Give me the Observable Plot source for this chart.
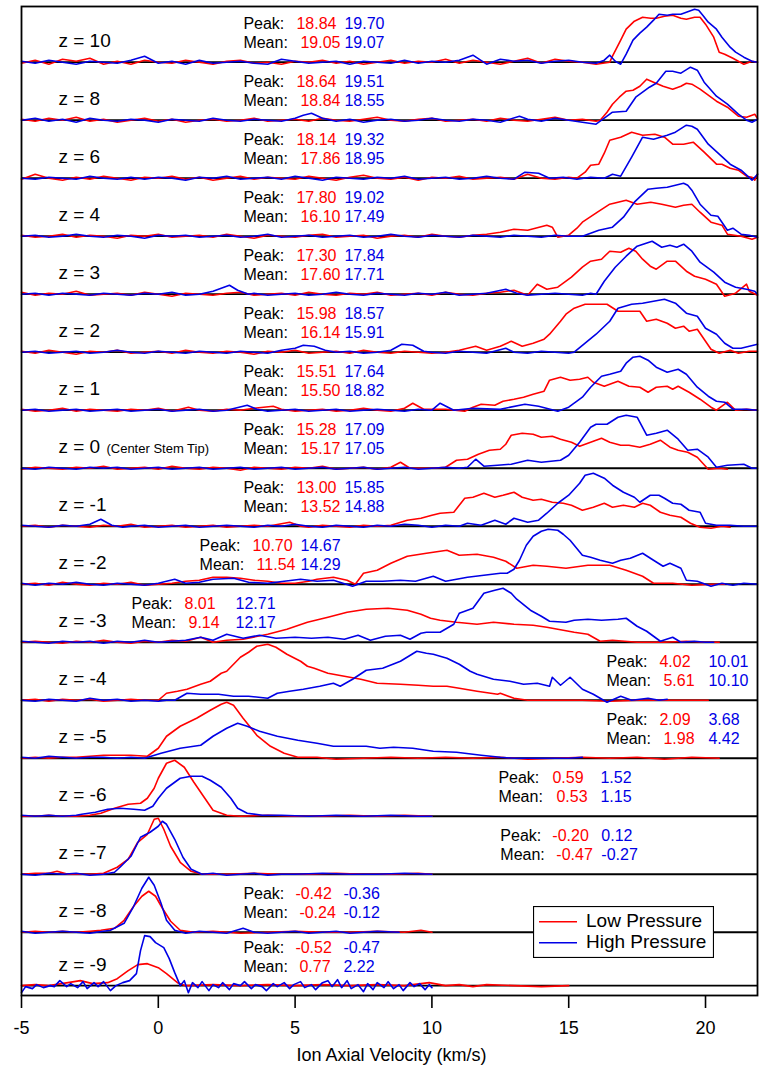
<!DOCTYPE html>
<html><head><meta charset="utf-8">
<script src="https://cdn.jsdelivr.net/npm/d3@7"></script>
<script src="https://cdn.jsdelivr.net/npm/@observablehq/plot@0.6"></script>
<style>
body{margin:0;background:#fff;}
#wrap{position:relative;width:761px;height:1068px;}
#legend{position:absolute;left:533px;top:906px;}
</style></head><body><div id="wrap"></div>
<script>
// ---- panel labels (z positions, top to bottom) ----
const zLabels = [10, 8, 6, 4, 3, 2, 1, 0, -1, -2, -3, -4, -5, -6, -7, -8, -9];

// ---- annotated values ----
const peakLow  = [18.84, 18.64, 18.14, 17.80, 17.30, 15.98, 15.51, 15.28, 13.00, 10.70, 8.01, 4.02, 2.09, 0.59, -0.20, -0.42, -0.52];
const peakHigh = [19.70, 19.51, 19.32, 19.02, 17.84, 18.57, 17.64, 17.09, 15.85, 14.67, 12.71, 10.01, 3.68, 1.52, 0.12, -0.36, -0.47];
const meanLow  = [19.05, 18.84, 17.86, 16.10, 17.60, 16.14, 15.50, 15.17, 13.52, 11.54, 9.14, 5.61, 1.98, 0.53, -0.47, -0.24, 0.77];
const meanHigh = [19.07, 18.55, 18.95, 17.49, 17.71, 15.91, 18.82, 17.05, 14.88, 14.29, 12.17, 10.10, 4.42, 1.15, -0.27, -0.12, 2.22];

const xTicks = [-5, 0, 5, 10, 15, 20];
const seriesNames = ["Low Pressure", "High Pressure"];

// ---- signal traces: [velocity km/s, signal (a.u.)] ----
const low_z10 = [[-5,-1],[-4.5,2],[-4,-2],[-3.5,3],[-3,1],[-2.5,4],[-2,-2],[-1.5,1],[-1,-2],[-0.5,2],[0,0],[0.5,-1],[1,2],[1.5,0],[2,-2],[2.5,1],[3,2],[3.5,-1],[4,0],[4.5,-2],[5,1],[5.5,0],[6,2],[6.5,-1],[7,1],[7.5,-2],[8,0],[8.5,2],[9,-1],[9.5,1],[10,0],[10.5,3],[11,-1],[11.5,2],[12,0],[12.5,-2],[13,1],[13.5,4],[14,-1],[14.5,3],[15,1],[15.5,0],[16,-2],[16.5,0],[16.6,6],[16.9,22],[17.1,33],[17.4,41],[17.7,45],[18.0,44],[18.2,44],[18.5,46],[18.8,47],[19.1,44],[19.3,43],[19.6,45],[19.8,45],[20.0,38],[20.3,25],[20.5,10],[20.7,8],[21.0,4],[21.4,-2],[21.7,1],[21.9,0]];
const high_z10 = [[-5,1],[-4.5,-1],[-4,2],[-3.5,0],[-3,-2],[-2.5,1],[-2,0],[-1.5,-1],[-1,2],[-0.5,6],[0,-1],[0.5,1],[1,-2],[1.5,2],[2,-1],[2.5,0],[3,1],[3.5,-1],[4,-2],[4.5,3],[5,1],[5.5,-1],[6,0],[6.5,1],[7,-2],[7.5,1],[8,0],[8.5,-1],[9,2],[9.5,-1],[10,1],[10.5,0],[11,2],[11.5,7],[12,-2],[12.5,3],[13,1],[13.5,2],[14,-1],[14.5,1],[15,2],[15.5,0],[16,-1],[16.3,2],[16.5,7],[16.7,1],[16.9,-2],[17.1,8],[17.35,22],[17.6,29],[17.85,35],[18.1,42],[18.3,48],[18.6,47],[18.8,48],[19.1,48],[19.3,50],[19.6,53],[19.75,52],[19.9,47],[20.1,40],[20.4,33],[20.6,25],[20.9,15],[21.1,10],[21.4,5],[21.7,1],[21.9,0]];

const low_z8 = [[-5,1],[-4.5,-1],[-4,2],[-3.5,0],[-3,3],[-2.5,-1],[-2,1],[-1.5,-2],[-1,0],[-0.5,2],[0,-1],[0.5,1],[1,-2],[1.5,0],[2,1],[2.5,-1],[3,0],[3.5,2],[4,-1],[4.5,0],[5,1],[5.5,-1],[6,2],[6.5,0],[7,-1],[7.5,1],[8,3],[8.5,0],[9,-1],[9.5,1],[10,2],[10.5,-1],[11,0],[11.5,1],[12,-1],[12.5,2],[13,0],[13.5,-1],[14,1],[14.5,3],[15,0],[15.5,1],[16,-1],[16.15,0],[16.4,8],[16.6,16],[16.85,23],[17.1,29],[17.35,30],[17.6,34],[17.85,41],[18.1,38],[18.45,34],[18.8,31],[19.1,34],[19.3,37],[19.5,36],[19.8,31],[20.1,25],[20.4,19],[20.8,13],[21.2,4],[21.5,3],[21.8,6],[21.9,2]];
const high_z8 = [[-5,0],[-4.5,2],[-4,-1],[-3.5,1],[-3,-2],[-2.5,2],[-2,0],[-1.5,-1],[-1,1],[-0.5,0],[0,-2],[0.5,1],[1,0],[1.5,-1],[2,2],[2.5,0],[3,-1],[3.5,1],[4,0],[4.5,-1],[5,2],[5.3,5],[5.6,7],[6,2],[6.5,-1],[7,1],[7.5,-2],[8,0],[8.5,1],[9,-1],[9.5,0],[10,2],[10.5,0],[11,-1],[11.5,1],[12,0],[12.5,-2],[13.2,4],[13.5,1],[14,-1],[14.5,2],[15,0],[15.5,-2],[16.0,-4],[16.3,2],[16.6,8],[17.1,9],[17.45,23],[17.95,33],[18.2,37],[18.55,49],[18.8,49],[19.1,47],[19.45,53],[19.7,50],[19.95,38],[20.4,24],[20.8,16],[21.2,6],[21.5,0],[21.7,-2],[21.9,1]];

const low_z6 = [[-5,-1],[-4.5,4],[-4,0],[-3.5,-2],[-3,1],[-2.5,-1],[-2,2],[-1.5,0],[-1,-2],[-0.5,1],[0,0],[0.5,2],[1,-1],[1.5,1],[2,-2],[2.5,0],[3,2],[3.5,-1],[4,1],[4.5,0],[5,-1],[5.5,2],[6,0],[6.5,-2],[7,1],[7.5,3],[8,0],[8.5,-1],[9,1],[9.5,-2],[10,1],[10.5,0],[11,2],[11.5,-1],[12,0],[12.5,1],[13,-1],[13.5,4],[14,0],[14.5,-1],[15,1],[15.3,0],[15.6,6],[15.8,13],[16.1,14],[16.3,25],[16.5,38],[16.9,41],[17.3,46],[17.7,43],[18.15,44],[18.5,41],[18.8,34],[19.2,34],[19.55,36],[19.95,26],[20.4,14],[20.6,14],[20.9,10],[21.2,8],[21.5,2],[21.7,1],[21.8,-2],[21.9,4]];
const high_z6 = [[-5,0],[-4.5,-1],[-4,1],[-3.5,0],[-3,-1],[-2.5,2],[-2,0],[-1.5,-1],[-1,1],[-0.5,-1],[0,1],[0.5,0],[1,-2],[1.5,1],[2,0],[2.5,2],[3,-1],[3.5,0],[4,1],[4.5,-1],[5,2],[5.5,0],[6,-2],[6.5,1],[7,0],[7.5,-1],[8,1],[8.5,0],[9,2],[9.5,-1],[10,0],[10.5,1],[11,-1],[11.5,0],[12,2],[12.5,0],[13,-1],[13.4,6],[13.9,5],[14.3,0],[14.8,1],[15.3,-1],[15.8,1],[16.3,0],[16.6,4],[16.9,2],[17.3,21],[17.7,41],[18.1,39],[18.6,43],[18.9,46],[19.3,53],[19.5,52],[19.7,49],[20.1,34],[20.5,24],[20.9,14],[21.3,8],[21.7,-2],[21.9,4]];

const low_z4 = [[-5,1],[-4.5,-1],[-4,0],[-3.5,2],[-3,-1],[-2.5,1],[-2,0],[-1.5,-2],[-1,1],[-0.5,0],[0,2],[0.5,-1],[1,0],[1.5,1],[2,-1],[2.5,2],[3,0],[3.5,-2],[4,1],[4.5,0],[5,-1],[5.5,1],[6,2],[6.5,-1],[7,0],[7.5,1],[8,-2],[8.5,0],[9,1],[9.5,-1],[10,2],[10.5,0],[11,-1],[11.5,1],[12,2],[12.5,4],[13,7],[13.5,6],[14.2,11],[14.4,9],[14.6,-1],[15.0,1],[15.3,8],[15.5,14],[16.05,24],[16.5,32],[16.8,34],[17.1,36],[17.5,32],[18.0,34],[18.4,32],[18.9,29],[19.2,31],[19.5,32],[19.8,24],[20.2,14],[20.6,11],[20.8,2],[21.3,0],[21.7,-3],[21.9,-1]];
const high_z4 = [[-5,0],[-4.5,1],[-4,-1],[-3.5,0],[-3,2],[-2.5,0],[-2,-1],[-1.5,1],[-1,0],[-0.5,-2],[0,1],[0.5,0],[1,1],[1.5,-1],[2,0],[2.5,1],[3,-1],[3.5,0],[4,2],[4.5,-1],[5,0],[5.5,1],[6,-1],[6.5,0],[7,1],[7.5,-1],[8,0],[8.5,2],[9,0],[9.5,-1],[10,1],[10.5,0],[11,-1],[11.5,1],[12,0],[12.5,-1],[13,1],[13.5,0],[14,-1],[14.5,1],[15,0],[15.5,0],[15.8,3],[16.1,6],[16.6,9],[17.0,19],[17.4,34],[17.9,47],[18.2,48],[18.6,49],[18.9,51],[19.2,53],[19.35,51],[19.5,46],[19.8,32],[20.2,21],[20.45,20],[20.8,6],[21.0,8],[21.3,2],[21.6,1],[21.9,-1]];

const low_z3 = [[-5,2],[-4.5,-1],[-4,1],[-3.5,0],[-3,3],[-2.5,-1],[-2,0],[-1.5,1],[-1,-1],[-0.5,2],[0,0],[0.5,-2],[1,1],[1.5,0],[2,-1],[2.5,1],[3,2],[3.5,-1],[4,0],[4.5,1],[5,-1],[5.5,2],[6,0],[6.5,-1],[7,1],[7.5,0],[8,2],[8.5,-1],[9,0],[9.5,1],[10,-1],[10.5,2],[11,0],[11.5,-1],[12,1],[12.5,2],[13.0,4],[13.5,-1],[13.85,10],[14.2,5],[14.6,7],[15.1,17],[15.5,27],[15.8,33],[16.2,35],[16.5,43],[16.9,42],[17.2,46],[17.45,43],[17.7,35],[17.98,28],[18.2,25],[18.6,33],[18.9,33],[19.3,23],[19.6,18],[20.0,15],[20.4,10],[20.7,-2],[21.1,1],[21.5,10],[21.6,3],[21.9,-1]];
const high_z3 = [[-5,0],[-4.5,1],[-4,-1],[-3.5,1],[-3,0],[-2.5,-1],[-2,1],[-1.5,0],[-1,-1],[-0.5,1],[0,0],[0.5,2],[1,-1],[1.5,0],[2,3],[2.3,6],[2.6,9],[2.9,4],[3.3,0],[3.5,1],[4,-1],[4.5,0],[5,1],[5.5,-1],[6,0],[6.5,2],[7,0],[7.5,-1],[8,1],[8.5,0],[9,-1],[9.5,1],[10,0],[10.5,2],[11,-1],[11.5,0],[12,1],[12.7,5],[13.1,1],[13.5,-1],[14,0],[14.5,1],[15,0],[15.5,-1],[15.8,1],[16.0,0],[16.3,13],[16.7,27],[17.1,38],[17.5,48],[18.05,53],[18.4,47],[18.7,49],[18.95,47],[19.2,50],[19.5,43],[19.8,32],[20.3,22],[20.7,12],[21.1,7],[21.5,5],[21.8,3],[21.9,0]];

const low_z2 = [[-5,1],[-4.5,-1],[-4,2],[-3.5,0],[-3,-2],[-2.5,1],[-2,0],[-1.5,2],[-1,-1],[-0.5,0],[0,1],[0.5,-1],[1,2],[1.5,0],[2,-1],[2.5,1],[3,0],[3.5,-2],[4,1],[4.5,0],[5,2],[5.5,-1],[6,0],[6.5,1],[7,-1],[7.5,2],[8,0],[8.5,-1],[9,1],[9.5,0],[10,-1],[10.5,0],[11.0,2],[11.6,6],[12.0,2],[12.5,6],[12.9,11],[13.3,6],[13.7,9],[14.1,13],[14.3,18],[14.7,31],[14.9,38],[15.2,44],[15.6,48],[16.0,48],[16.4,48],[16.8,41],[17.3,41],[17.6,41],[17.85,31],[18.2,33],[18.6,29],[18.9,24],[19.2,26],[19.4,21],[19.7,23],[20.0,11],[20.2,3],[20.5,-1],[20.9,2],[21.2,-1],[21.6,1],[21.9,1]];
const high_z2 = [[-5,0],[-4.5,1],[-4,-1],[-3.5,0],[-3,1],[-2.5,-1],[-2,0],[-1.5,2],[-1,0],[-0.5,-1],[0,1],[0.5,0],[1,-1],[1.5,1],[2,0],[2.5,-1],[3,1],[3.5,0],[4,-1],[4.5,2],[5,4],[5.3,7],[5.7,6],[6.1,2],[6.5,0],[7,1],[7.5,-1],[8,0],[8.5,2],[8.9,8],[9.3,7],[9.7,1],[10,0],[10.5,-1],[11,1],[11.5,0],[12,-1],[12.7,4],[13,0],[13.5,-1],[14,1],[14.5,0],[15,-1],[15.2,0],[15.6,9],[16.0,18],[16.5,31],[16.8,44],[17.3,48],[17.7,49],[18.1,51],[18.5,53],[18.9,49],[19.3,39],[19.7,36],[20.0,24],[20.4,18],[20.7,9],[21.0,4],[21.3,4],[21.6,6],[21.9,8]];

const low_z1 = [[-5,1],[-4.5,-1],[-4,0],[-3.5,2],[-3,-1],[-2.5,1],[-2,0],[-1.5,-1],[-1,1],[-0.5,0],[0,2],[0.5,-1],[1.1,3],[1.5,0],[2,-1],[2.5,1],[3,0],[3.5,2],[4.2,4],[4.5,1],[5,-1],[5.5,0],[6,1],[6.5,-1],[7,0],[7.5,2],[8,0],[8.5,-1],[9.0,2],[9.3,7],[9.7,1],[10.5,1],[11.2,-1],[11.5,3],[11.8,6],[12.3,5],[12.6,9],[13.0,11],[13.35,13],[13.7,16],[14.1,19],[14.3,30],[14.7,33],[15.05,30],[15.4,31],[15.7,33],[15.9,28],[16.3,24],[16.8,29],[17.2,24],[17.6,23],[17.9,18],[18.2,23],[18.6,24],[18.8,21],[19.0,24],[19.4,18],[19.8,11],[20.2,3],[20.4,0],[20.8,8],[21.1,0],[21.5,1],[21.9,0]];
const high_z1 = [[-5,0],[-4.5,1],[-4,-1],[-3.5,0],[-3,1],[-2.5,-1],[-2,0],[-1.5,1],[-1,-1],[-0.5,0],[0,1],[0.5,-1],[1,0],[1.5,1],[2,-1],[2.5,0],[3.25,5],[3.6,1],[4,-1],[4.5,0],[5,1],[5.5,-1],[6,0],[6.5,1],[7,-1],[7.5,0],[8,1],[8.5,0],[9,-1],[9.5,1],[10,0],[10.3,7],[10.8,0],[11.5,2],[12.5,1],[13.4,6],[13.9,4],[14.6,-1],[15.0,3],[15.5,13],[15.8,23],[16.2,34],[16.5,36],[16.9,39],[17.1,47],[17.35,53],[17.6,54],[17.9,50],[18.2,43],[18.6,38],[19.0,41],[19.3,36],[19.7,23],[20.1,14],[20.4,9],[20.7,8],[21.0,1],[21.5,1],[21.9,0]];

const low_z0 = [[-5,-1],[-4.5,1],[-4,0],[-3.5,-1],[-3,1],[-2.5,0],[-2,2],[-1.5,-1],[-1,0],[-0.5,1],[0,-1],[0.5,2],[1,0],[1.5,-1],[2,1],[2.5,0],[3,-2],[3.5,1],[4,0],[4.5,-1],[5,1],[5.5,0],[6,2],[6.5,-1],[7,0],[7.5,1],[8,-1],[8.5,1],[8.85,6],[9.2,0],[10.0,0],[10.5,1],[10.9,8],[11.3,9],[11.7,14],[12.1,18],[12.5,19],[12.7,24],[12.9,33],[13.3,35],[13.7,34],[14.0,31],[14.4,32],[14.7,29],[15.1,26],[15.4,22],[15.8,26],[16.2,30],[16.5,26],[16.9,23],[17.2,23],[17.6,21],[17.98,24],[18.35,28],[18.7,21],[19.0,18],[19.35,16],[19.7,11],[20.1,-1],[20.5,0],[20.8,-1]];
const high_z0 = [[-5,0],[-4.5,-1],[-4,1],[-3.5,0],[-3,-1],[-2.5,1],[-2,0],[-1.5,1],[-1,-1],[-0.5,0],[0,1],[0.5,-1],[1,0],[1.5,1],[2,-1],[2.5,0],[3,1],[3.5,-1],[4,0],[4.5,1],[5,-1],[5.5,0],[6,1],[6.5,-1],[7,0],[7.5,1],[8,-1],[8.5,0],[9,1],[9.5,-1],[10,0],[10.5,1],[11,0],[11.3,1],[11.6,9],[11.9,2],[12.4,3],[12.9,4],[13.5,8],[14.0,6],[14.7,8],[15.0,13],[15.4,26],[15.8,41],[16.0,44],[16.4,44],[16.8,51],[17.1,53],[17.5,51],[17.85,33],[18.2,35],[18.6,38],[19.0,29],[19.35,18],[19.7,19],[20.1,11],[20.4,1],[20.8,3],[21.4,4],[21.7,0],[21.9,0]];

const low_zm1 = [[-5,0],[-4.5,1],[-4,-1],[-3.5,1],[-3,0],[-2.5,-1],[-2,1],[-1.5,0],[-1,2],[-0.5,-1],[0,0],[0.5,1],[1,-1],[1.5,0],[2,1],[2.5,-1],[3,0],[3.5,1],[4,0],[4.8,4],[5.2,0],[5.5,-1],[6,1],[6.5,0],[7,-1],[7.5,1],[8,0],[8.5,1],[9.1,6],[9.6,8],[10.0,11],[10.3,13],[10.8,14],[11.2,28],[11.5,29],[11.9,33],[12.3,29],[12.6,31],[13.0,34],[13.3,29],[13.7,26],[14.0,27],[14.4,24],[14.8,23],[15.1,21],[15.5,16],[15.9,19],[16.3,23],[16.6,19],[17.0,21],[17.4,19],[17.7,23],[17.98,21],[18.35,14],[18.7,11],[19.1,9],[19.45,3],[19.8,-1],[20.2,-2],[20.6,0],[20.9,-1]];
const high_zm1 = [[-5,1],[-4.5,0],[-4,-1],[-3.5,1],[-3,0],[-2.5,2],[-2.1,7],[-1.7,1],[-1.3,-1],[-1,0],[-0.5,1],[0,-1],[0.5,0],[1,1],[1.5,-1],[2,0],[2.5,1],[3,0],[3.5,-1],[4,1],[4.5,0],[5,2],[5.5,0],[6,-1],[6.5,1],[7,0],[7.5,-1],[8,1],[8.5,0],[9,2],[9.5,1],[10,-1],[10.5,1],[11,0],[11.3,3],[11.8,1],[12.3,6],[12.7,2],[13.0,8],[13.5,4],[13.9,6],[14.2,13],[14.6,23],[15.0,31],[15.4,43],[15.6,51],[15.9,53],[16.3,48],[16.6,41],[17.0,34],[17.4,29],[17.6,24],[17.98,31],[18.3,31],[18.5,28],[18.8,23],[19.1,22],[19.4,16],[19.8,14],[20.0,3],[20.4,1],[20.9,1],[21.4,0],[21.9,0]];

const low_zm2 = [[-5,0],[-4.5,1],[-4,-1],[-3.5,2],[-3,0],[-2.5,-1],[-2,1],[-1.5,0],[-1,2],[-0.5,-1],[0,0],[0.5,1],[1,3],[1.5,4],[2,7],[2.5,7],[3,6],[3.5,4],[4,3],[4.5,1],[5,1],[5.5,3],[5.8,5],[6.4,7],[6.9,4],[7.2,0],[7.5,11],[8.0,14],[8.5,21],[9.1,28],[9.8,31],[10.55,34],[11.0,29],[11.65,30],[12.25,27],[12.7,23],[13.1,16],[13.7,19],[14.2,18],[14.9,16],[15.7,19],[16.5,19],[17.1,14],[17.7,8],[18.1,1],[18.8,1],[19.5,-1],[20.3,0],[20.7,0]];
const high_zm2 = [[-5,1],[-4.5,-1],[-4,1],[-3.5,0],[-3,2],[-2.5,0],[-2,-1],[-1.5,1],[-1,0],[-0.5,-1],[0,1],[0.6,5],[1,1],[1.5,2],[2,5],[2.75,6],[3.3,2],[4,1],[4.6,3],[5.2,5],[5.8,3],[6.4,4],[7.1,-2],[7.6,3],[8.2,3],[8.85,4],[9.4,3],[10.05,8],[10.5,3],[11.3,7],[11.9,9],[12.5,11],[12.75,11],[13.0,15],[13.2,24],[13.45,39],[13.7,48],[14.0,53],[14.25,55],[14.6,54],[14.8,50],[15.05,44],[15.5,29],[15.8,27],[16.15,24],[16.6,21],[16.9,24],[17.25,26],[17.7,31],[18.1,24],[18.45,18],[18.7,21],[19.1,16],[19.3,4],[19.7,3],[20.2,-2],[20.6,1],[21.0,-1],[21.4,1],[21.9,0]];

const low_zm3 = [[-5,0],[-4.5,1],[-4,0],[-3.5,-1],[-3,1],[-2.5,0],[-2,2],[-1.5,0],[-1,-1],[-0.5,1],[0,0],[0.5,2],[1,1],[1.55,5],[2.0,0],[2.5,2],[3.1,3],[4.0,8],[4.7,13],[5.45,20],[6.2,25],[6.9,30],[7.6,33],[8.4,34],[9.1,32],[9.6,28],[9.95,24],[10.3,22],[10.9,20],[11.65,18],[12.25,20],[13.0,18],[13.7,17],[14.2,15],[14.8,12],[15.2,10],[15.7,8],[16.15,1],[16.6,2],[17.5,0],[18.5,0],[19.3,1],[20.0,0],[20.5,0]];
const high_zm3 = [[-5,1],[-4.5,0],[-4,-1],[-3.5,1],[-3,0],[-2.5,1],[-2,-1],[-1.5,1],[-1,0],[-0.5,2],[0,0],[0.5,1],[1,2],[1.55,5],[2.0,2],[2.5,8],[3.1,4],[3.7,7],[4.3,4],[5.0,5],[5.6,4],[6.2,5],[6.8,3],[7.3,7],[7.75,2],[8.3,6],[8.85,7],[9.2,3],[9.6,9],[9.8,10],[10.3,10],[10.8,18],[11.0,29],[11.5,34],[11.9,49],[12.3,52],[12.6,54],[12.9,49],[13.1,43],[13.6,32],[14.0,26],[14.3,21],[14.9,20],[15.2,22],[15.7,23],[16.2,22],[16.8,23],[17.1,24],[17.5,16],[17.85,11],[18.35,1],[18.8,5],[19.1,0],[19.6,1],[20.0,0],[20.3,0]];

const low_zm4 = [[-5,0],[-4.5,1],[-4,-1],[-3.5,1],[-3,0],[-2.5,1],[-2,-1],[-1.5,0],[-1,1],[-0.5,0],[0,0],[0.3,7],[0.7,9],[1.05,11],[1.55,16],[1.9,19],[2.3,27],[2.5,29],[3.0,43],[3.3,48],[3.6,54],[4.0,56],[4.3,53],[4.7,46],[5.2,39],[5.45,34],[5.7,32],[6.2,27],[6.8,24],[7.4,21],[8.0,17],[8.85,16],[9.5,15],[10.05,14],[10.55,14],[11.0,12],[11.65,9],[12.4,6],[12.5,7],[13.0,2],[13.5,0],[14.5,0],[15.5,0],[16.5,-1],[17.5,0],[18.5,0],[19.5,0],[20.1,0]];
const high_zm4 = [[-5,0],[-4.5,-1],[-4,1],[-3.5,0],[-3,-1],[-2.5,2],[-2,0],[-1.5,1],[-1,-1],[-0.5,0],[0,-1],[0.3,0],[0.6,0],[1.05,7],[1.55,6],[2.2,6],[2.75,4],[3.3,4],[4.0,2],[4.35,7],[4.8,9],[5.3,11],[5.9,14],[6.4,17],[6.65,14],[7.1,21],[7.6,30],[8.2,32],[8.85,39],[9.45,49],[9.8,47],[10.05,46],[10.55,42],[11.0,36],[11.4,29],[11.65,26],[12.25,21],[12.85,19],[13.35,16],[13.85,17],[14.3,14],[14.4,23],[14.7,15],[15.05,23],[15.5,11],[15.9,6],[16.4,-2],[16.9,4],[17.3,0],[17.9,2],[18.3,0],[18.6,1]];

const low_zm5 = [[-5,0],[-4.5,1],[-4,0],[-3.5,1],[-3,1],[-2.5,2],[-2.0,3],[-1.5,3],[-1,3],[-0.4,2],[0,10],[0.3,22],[0.8,32],[1.4,40],[1.9,48],[2.3,54],[2.5,56],[2.75,53],[3.1,40],[3.6,23],[4.1,12],[4.6,5],[5.1,1],[5.8,1],[6.5,-1],[7.5,0],[8.5,1],[9.5,0],[10.5,1],[11.5,0],[12.5,1],[13.5,-1],[14.5,0],[15.5,1],[16.5,0],[17.5,1],[18.5,-1],[19.5,1],[20.5,0]];
const high_zm5 = [[-5,1],[-4.5,0],[-4,2],[-3.5,1],[-3,0],[-2.5,1],[-2,1],[-1.5,0],[-1,1],[-0.5,0],[0.1,5],[0.8,10],[1.55,13],[2.0,22],[2.5,30],[2.9,35],[3.25,32],[3.7,27],[4.35,22],[5.1,18],[5.8,15],[6.4,12],[7.1,12],[7.6,12],[8.1,10],[8.6,11],[9.3,10],[10.05,7],[10.9,6],[11.8,3],[12.5,1],[13.0,0],[14.0,0],[15.0,0],[15.5,1]];

const low_zm6 = [[-5,0],[-4.5,0],[-4,1],[-3.5,0],[-3,0],[-2.5,1],[-2.1,3],[-1.6,8],[-1.1,12],[-0.65,13],[-0.4,18],[-0.15,28],[0,38],[0.3,53],[0.6,56],[0.95,49],[1.3,34],[1.7,18],[2.0,6],[2.5,1],[3,0],[4,1],[5,0],[6,0],[7,1],[8,0],[9,1],[10,0]];
const high_zm6 = [[-5,1],[-4.5,0],[-4,1],[-3.5,0],[-3,1],[-2.8,2],[-2.3,4],[-1.85,7],[-1.4,8],[-0.9,7],[-0.5,6],[-0.2,10],[0,18],[0.3,28],[0.8,38],[1.2,40],[1.6,40],[1.9,36],[2.3,29],[2.65,18],[2.9,8],[3.25,3],[3.8,1],[4.5,1],[5.5,0],[6.5,1],[7.5,0],[8.5,1],[9.5,0],[10,0]];

const low_zm7 = [[-5,0],[-4.5,1],[-4,1],[-3.7,3],[-3.3,0],[-2.5,0],[-2,1],[-1.5,7],[-1.1,15],[-0.75,32],[-0.4,40],[-0.15,55],[0,56],[0.2,45],[0.45,28],[0.8,12],[1.2,3],[1.6,0],[2.5,0],[3.5,1],[4.5,0],[5.5,0],[6.5,1],[7.5,0],[8.5,0],[9.5,1],[10,0]];
const high_zm7 = [[-5,0],[-4.5,-1],[-4,1],[-3.5,0],[-3,1],[-2.5,-1],[-2,0],[-1.6,2],[-1.4,7],[-1.0,18],[-0.65,37],[-0.3,42],[0,48],[0.15,53],[0.3,50],[0.6,35],[0.9,17],[1.2,5],[1.6,0],[2,1],[2.5,-1],[3,0],[3.5,1],[4,-1],[4.5,0],[5,0],[6,1],[7,0],[8,0],[9,1],[10,0]];

const low_zm8 = [[-5,0],[-4.5,1],[-4,0],[-3.5,1],[-3,0],[-2.5,1],[-2.1,2],[-1.6,4],[-1.25,12],[-0.9,26],[-0.6,36],[-0.35,41],[-0.1,36],[0.15,24],[0.45,11],[0.8,2],[1.3,0],[2,1],[3,-1],[4,0],[5,1],[6,0],[7,0],[8,1],[9,0],[9.6,2],[10,0]];
const high_zm8 = [[-5,1],[-4.5,-1],[-4,0],[-3.5,1],[-3,0],[-2.5,-1],[-2,1],[-1.75,2],[-1.25,9],[-0.9,26],[-0.6,44],[-0.35,55],[-0.15,47],[0.1,29],[0.3,12],[0.6,2],[1,-1],[1.5,1],[2,0],[2.5,-1],[3.1,4],[3.5,0],[4,-1],[4.5,0],[5,1],[5.5,-1],[6,0],[6.5,1],[7,-1],[7.5,0],[8,1],[8.8,0]];

const low_zm9 = [[-5,0],[-4.5,1],[-4,0],[-3.3,3],[-2.85,5],[-2.4,2],[-1.85,3],[-1.5,7],[-1.1,15],[-0.75,21],[-0.4,22],[0,18],[0.3,12],[0.7,3],[1,0],[2,1],[3,0],[4,1],[5,0],[6,1],[7,0],[8,1],[9,0],[9.9,3],[10.5,0],[11,1],[11.5,-1],[12,1],[13,0],[14,-1],[15,0]];
const high_zm9 = [[-5,-7],[-4.85,-1],[-4.6,-3],[-4.45,1],[-4.2,-2],[-3.95,0],[-3.8,-1],[-3.6,5],[-3.35,-1],[-3.2,2],[-2.95,-2],[-2.75,4],[-2.6,-3],[-2.35,3],[-2.2,-1],[-2.0,4],[-1.75,-5],[-1.55,0],[-1.3,3],[-1.05,5],[-0.8,12],[-0.65,35],[-0.5,50],[-0.3,49],[-0.1,43],[0.2,38],[0.4,27],[0.6,13],[0.8,0],[0.95,5],[1.1,-7],[1.25,3],[1.45,-2],[1.6,4],[1.85,-5],[2.0,1],[2.2,-2],[2.35,3],[2.6,-4],[2.75,2],[3.0,0],[3.15,4],[3.4,-3],[3.55,1],[3.8,-1],[3.95,-5],[4.2,2],[4.35,-1],[4.6,3],[4.8,-3],[4.95,1],[5.2,4],[5.35,-2],[5.6,1],[5.75,-4],[6.0,3],[6.2,5],[6.35,-1],[6.55,6],[6.7,-2],[6.9,5],[7.05,-3],[7.3,1],[7.5,-6],[7.65,2],[7.85,-4],[8.0,3],[8.25,-2],[8.4,4],[8.6,-3],[8.8,1],[8.95,-5],[9.2,3],[9.35,-1],[9.55,2],[9.75,-4],[9.9,1],[10,-2]];

const lowTraces  = [low_z10, low_z8, low_z6, low_z4, low_z3, low_z2, low_z1, low_z0, low_zm1, low_zm2, low_zm3, low_zm4, low_zm5, low_zm6, low_zm7, low_zm8, low_zm9];
const highTraces = [high_z10, high_z8, high_z6, high_z4, high_z3, high_z2, high_z1, high_z0, high_zm1, high_zm2, high_zm3, high_zm4, high_zm5, high_zm6, high_zm7, high_zm8, high_zm9];

// ---- layout (not data) ----
const RED = "#ff0000", BLUE = "#0000e6";
const FONT = "'Liberation Sans', Arial, Helvetica, sans-serif";
const W = 761, H = 1068, ML = 21, MR = 4, MT = 6, MB = 73;
const X0 = -5, X1 = 21.9;
const pxPerUnit = (W - ML - MR) / (X1 - X0);
const ROW = 58; // px per panel row
const rowBase = zLabels.map((z, i) => i < 16 ? 16.09 - i : 0.17); // panel baselines in row units
const Y1 = 17.05;
const annoLeft = [3.11,3.11,3.11,3.11,3.11,3.11,3.11,3.11,3.11,1.51,-0.98,16.38,16.38,12.43,12.5,3.11,3.11];
const annoCols = [[53,101,57,101],[53,101,57,101],[53,101,57,101],[53,101,57,101],[53,101,57,101],[53,101,57,101],[53,101,57,101],[53,101,57,101],[53,101,57,101],[53,101,57,101],[53,104,57,104],[53,102,57,102],[53,102,57,102],[54,102,58,102],[52,101,56,101],[52,100,56,100],[52,100,56,100]];

const toRecords = traces => traces.flatMap((tr, i) => tr.map(([v, s]) => ({v, y: rowBase[i] + s / ROW, panel: zLabels[i]})));
const lowRec = toRecords(lowTraces);
const highRec = toRecords(highTraces);

const idx = zLabels.map((d, i) => i);
const fmt = v => v.toFixed(2);
const peakY = i => rowBase[i] + 33 / ROW;
const meanY = i => rowBase[i] + 14 / ROW;
const colX = (i, k) => annoLeft[i] + annoCols[i][k] / pxPerUnit;

const chart = Plot.plot({
  width: W, height: H,
  marginLeft: ML, marginRight: MR, marginTop: MT, marginBottom: MB,
  x: {domain: [X0, X1]},
  y: {domain: [0, Y1], axis: null},
  style: {fontFamily: FONT, background: "white", overflow: "visible"},
  marks: [
    Plot.ruleY(rowBase, {stroke: "#000", strokeWidth: 1.8}),
    Plot.line(lowRec, {x: "v", y: "y", z: "panel", stroke: RED, strokeWidth: 1.6}),
    Plot.line(highRec, {x: "v", y: "y", z: "panel", stroke: BLUE, strokeWidth: 1.6}),
    Plot.frame({stroke: "#000", strokeWidth: 1.8}),
    Plot.axisX({ticks: xTicks, tickSize: 13, tickPadding: 12.5, fontSize: 18, label: null, tickFormat: d => String(d), strokeWidth: 1.6}),
    Plot.text(["Ion Axial Velocity (km/s)"], {frameAnchor: "bottom", dy: 65.5, dx: 2, lineAnchor: "bottom", fontSize: 18, fill: "#000"}),
    // panel labels
    Plot.text(idx, {x: () => -3.65, y: i => rowBase[i] + 15 / ROW, text: i => `z = ${zLabels[i]}`, textAnchor: "start", lineAnchor: "bottom", fontSize: 19, fill: "#000"}),
    Plot.text(["(Center Stem Tip)"], {x: [-3.65], y: [rowBase[7] + 15 / ROW], dx: 48, textAnchor: "start", lineAnchor: "bottom", fontSize: 13, fill: "#000"}),
    // Peak / Mean annotations
    Plot.text(idx, {x: i => annoLeft[i], y: peakY, text: () => "Peak:", textAnchor: "start", lineAnchor: "bottom", fontSize: 16, fill: "#000"}),
    Plot.text(idx, {x: i => annoLeft[i], y: meanY, text: () => "Mean:", textAnchor: "start", lineAnchor: "bottom", fontSize: 16, fill: "#000"}),
    Plot.text(idx, {x: i => colX(i, 0), y: peakY, text: i => fmt(peakLow[i]), textAnchor: "start", lineAnchor: "bottom", fontSize: 16, fill: RED}),
    Plot.text(idx, {x: i => colX(i, 1), y: peakY, text: i => fmt(peakHigh[i]), textAnchor: "start", lineAnchor: "bottom", fontSize: 16, fill: BLUE}),
    Plot.text(idx, {x: i => colX(i, 2), y: meanY, text: i => fmt(meanLow[i]), textAnchor: "start", lineAnchor: "bottom", fontSize: 16, fill: RED}),
    Plot.text(idx, {x: i => colX(i, 3), y: meanY, text: i => fmt(meanHigh[i]), textAnchor: "start", lineAnchor: "bottom", fontSize: 16, fill: BLUE})
  ]
});

const wrap = document.getElementById("wrap");
wrap.appendChild(chart);

// legend overlay
const ns = "http://www.w3.org/2000/svg";
const leg = document.createElementNS(ns, "svg");
leg.setAttribute("id", "legend");
leg.setAttribute("width", 181); leg.setAttribute("height", 52);
leg.style.fontFamily = FONT;
const r = document.createElementNS(ns, "rect");
r.setAttribute("x", 0.5); r.setAttribute("y", 0.5); r.setAttribute("width", 180); r.setAttribute("height", 51);
r.setAttribute("fill", "#fff"); r.setAttribute("stroke", "#000"); r.setAttribute("stroke-width", 1.2);
leg.appendChild(r);
[[RED, 15.7, 20.7], [BLUE, 36.7, 42.3]].forEach(([c, ly, ty], k) => {
  const l = document.createElementNS(ns, "line");
  l.setAttribute("x1", 6); l.setAttribute("x2", 44); l.setAttribute("y1", ly); l.setAttribute("y2", ly);
  l.setAttribute("stroke", c); l.setAttribute("stroke-width", 1.5);
  leg.appendChild(l);
  const t = document.createElementNS(ns, "text");
  t.setAttribute("x", 53); t.setAttribute("y", ty); t.setAttribute("font-size", 19); t.setAttribute("fill", "#000");
  t.textContent = seriesNames[k];
  leg.appendChild(t);
});
wrap.appendChild(leg);
</script></body></html>
